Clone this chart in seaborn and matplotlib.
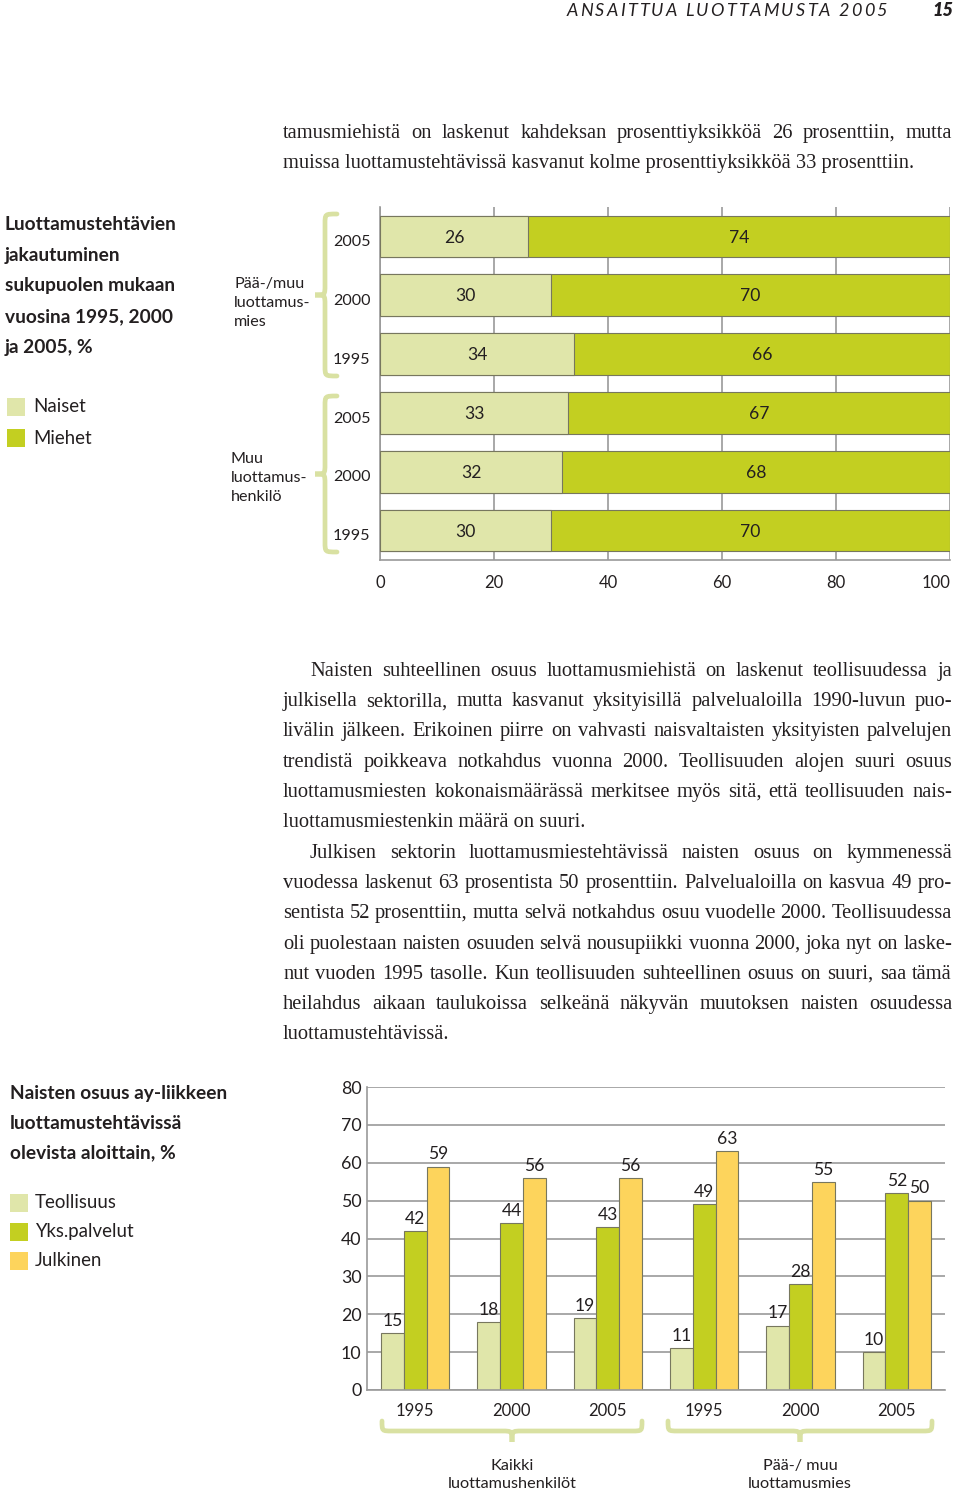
import numpy as np
import pandas as pd
import matplotlib
matplotlib.use("Agg")
import matplotlib.pyplot as plt
import seaborn as sns
from matplotlib.path import Path
from matplotlib.patches import PathPatch, Rectangle
import matplotlib.transforms as mtransforms

# ---------------- data ----------------
top_groups = ["Pää-/muu luottamusmies"] * 3 + ["Muu luottamushenkilö"] * 3
top_years = ["2005", "2000", "1995", "2005", "2000", "1995"]
naiset = [26, 30, 34, 33, 32, 30]
miehet = [74, 70, 66, 67, 68, 70]
top_xticks = [0, 20, 40, 60, 80, 100]

bottom_groups = ["Kaikki luottamushenkilöt"] * 3 + ["Pää-/ muu luottamusmies"] * 3
bottom_years = ["1995", "2000", "2005", "1995", "2000", "2005"]
teollisuus = [15, 18, 19, 11, 17, 10]
yks_palvelut = [42, 44, 43, 49, 28, 52]
julkinen = [59, 56, 56, 63, 55, 50]
sectors = ["Teollisuus", "Yks.palvelut", "Julkinen"]
bottom_yticks = [0, 10, 20, 30, 40, 50, 60, 70, 80]

header = "ANSAITTUA LUOTTAMUSTA 2005"
page_no = "15"
top_title = ["Luottamustehtävien", "jakautuminen", "sukupuolen mukaan",
             "vuosina 1995, 2000", "ja 2005, %"]
top_legend = ["Naiset", "Miehet"]
top_group_labels = ["Pää-/muu\nluottamus-\nmies", "Muu\nluottamus-\nhenkilö"]
bottom_title = ["Naisten osuus ay-liikkeen", "luottamustehtävissä",
                "olevista aloittain, %"]
bottom_group_labels = ["Kaikki\nluottamushenkilöt", "Pää-/ muu\nluottamusmies"]

para0 = ["tamusmiehistä on laskenut kahdeksan prosenttiyksikköä 26 prosenttiin, mutta",
         "muissa luottamustehtävissä kasvanut kolme prosenttiyksikköä 33 prosenttiin."]
para1 = ["Naisten suhteellinen osuus luottamusmiehistä on laskenut teollisuudessa ja",
         "julkisella sektorilla, mutta kasvanut yksityisillä palvelualoilla 1990-luvun puo-",
         "livälin jälkeen. Erikoinen piirre on vahvasti naisvaltaisten yksityisten palvelujen",
         "trendistä poikkeava notkahdus vuonna 2000. Teollisuuden alojen suuri osuus",
         "luottamusmiesten kokonaismäärässä merkitsee myös sitä, että teollisuuden nais-",
         "luottamusmiestenkin määrä on suuri."]
para2 = ["Julkisen sektorin luottamusmiestehtävissä naisten osuus on kymmenessä",
         "vuodessa laskenut 63 prosentista 50 prosenttiin. Palvelualoilla on kasvua 49 pro-",
         "sentista 52 prosenttiin, mutta selvä notkahdus osuu vuodelle 2000. Teollisuudessa",
         "oli puolestaan naisten osuuden selvä nousupiikki vuonna 2000, joka nyt on laske-",
         "nut vuoden 1995 tasolle. Kun teollisuuden suhteellinen osuus on suuri, saa tämä",
         "heilahdus aikaan taulukoissa selkeänä näkyvän muutoksen naisten osuudessa",
         "luottamustehtävissä."]

# ---------------- style ----------------
C_NAI = "#E0E6AA"
C_MIE = "#C3CF21"
C_JUL = "#FDD45C"
C_BRACE = "#D9E1A2"
C_GRID = "#9A9A9A"
C_EDGE = "#77775E"
C_TXT = "#231F20"

sns.set_theme(style="white")
plt.rcParams["font.family"] = ["Lato", "DejaVu Sans"]
plt.rcParams["text.color"] = C_TXT
plt.rcParams["xtick.color"] = C_TXT
plt.rcParams["ytick.color"] = C_TXT

W, H = 960, 1493
fig = plt.figure(figsize=(W / 100, H / 100), dpi=100)
fig.patch.set_facecolor("white")
PX = mtransforms.Affine2D().scale(1, -1).translate(0, H)
R = fig.canvas.get_renderer()


def measure(s, **kw):
    t = fig.text(0, 0, s, transform=PX, **kw)
    w = t.get_window_extent(renderer=R).width
    t.remove()
    return w


def ptext(x, y, s, **kw):
    return fig.text(x, y, s, transform=PX, **kw)


def body_line(s, x0, x1, y, justify, **kw):
    if not justify:
        ptext(x0, y, s, va="baseline", ha="left", **kw)
        return
    words = s.split(" ")
    ws = [measure(w, **kw) for w in words]
    gap = (x1 - x0 - sum(ws)) / (len(words) - 1)
    x = x0
    for w, wd in zip(words, ws):
        ptext(x, y, w, va="baseline", ha="left", **kw)
        x += wd + gap


def tracked(s, x0, x1, y, **kw):
    ws = [measure(c, **kw) if c != " " else measure("x x", **kw) - measure("xx", **kw)
          for c in s]
    tr = (x1 - x0 - sum(ws)) / (len(s) - 1)
    x = x0
    for c, wd in zip(s, ws):
        if c != " ":
            ptext(x, y, c, va="center", ha="left", **kw)
        x += wd + tr


def vbrace(x_end, x_stem, x_tip, y0, y1, r, lw=3.4):
    ym = (y0 + y1) / 2
    verts = [(x_end, y0), (x_stem, y0), (x_stem, y0), (x_stem, y0 + r),
             (x_stem, ym - r), (x_stem, ym), (x_stem, ym), (x_tip, ym),
             (x_stem, ym), (x_stem, ym), (x_stem, ym + r),
             (x_stem, y1 - r), (x_stem, y1), (x_stem, y1), (x_end, y1)]
    codes = [Path.MOVETO] + [Path.CURVE4] * 3 + [Path.LINETO] + [Path.CURVE4] * 6 + \
            [Path.LINETO] + [Path.CURVE4] * 3
    fig.add_artist(PathPatch(Path(verts, codes), transform=PX, fill=False,
                             edgecolor=C_BRACE, lw=lw, capstyle="round"))


def hbrace(x0, x1, y_end, y_stem, y_tip, r, lw=3.4):
    xm = (x0 + x1) / 2
    verts = [(x0, y_end), (x0, y_stem), (x0, y_stem), (x0 + r, y_stem),
             (xm - r, y_stem), (xm, y_stem), (xm, y_stem), (xm, y_tip),
             (xm, y_stem), (xm, y_stem), (xm + r, y_stem),
             (x1 - r, y_stem), (x1, y_stem), (x1, y_stem), (x1, y_end)]
    codes = [Path.MOVETO] + [Path.CURVE4] * 3 + [Path.LINETO] + [Path.CURVE4] * 6 + \
            [Path.LINETO] + [Path.CURVE4] * 3
    fig.add_artist(PathPatch(Path(verts, codes), transform=PX, fill=False,
                             edgecolor=C_BRACE, lw=lw, capstyle="round"))


# ---------------- header ----------------
tracked(header, 567, 887, 11, fontsize=13, style="italic")
ptext(953, 11, page_no, ha="right", va="center", fontsize=13, style="italic",
      fontweight="heavy")

# ---------------- body text ----------------
BODY = dict(family=["Liberation Serif", "DejaVu Serif"], fontsize=14.8)
XL, XR, IND = 283, 952, 310
LH = 30.2


def paragraph(lines, y0, indent_first):
    for k, s in enumerate(lines):
        x0 = IND if (k == 0 and indent_first) else XL
        body_line(s, x0, XR, y0 + k * LH + 5, k < len(lines) - 1, **BODY)


paragraph(para0, 133, False)
paragraph(para1, 671, True)
paragraph(para2, 853, True)

# ---------------- top chart ----------------
ax1 = fig.add_axes([380 / W, 1 - 560 / H, 570 / W, 353 / H])
df_top = pd.DataFrame({
    "row": [f"{g} {y}" for g, y in zip(top_groups, top_years)],
    "Naiset": naiset,
    "Miehet": miehet,
})
df_top["Yhteensä"] = df_top["Naiset"] + df_top["Miehet"]
sns.barplot(data=df_top, x="Yhteensä", y="row", orient="h", color=C_MIE,
            saturation=1, width=0.71, errorbar=None, edgecolor=C_EDGE,
            linewidth=0.8, ax=ax1, zorder=2)
sns.barplot(data=df_top, x="Naiset", y="row", orient="h", color=C_NAI,
            saturation=1, width=0.71, errorbar=None, edgecolor=C_EDGE,
            linewidth=0.8, ax=ax1, zorder=3)
for i, (n, m) in enumerate(zip(naiset, miehet)):
    ax1.text(n / 2, i + 0.02, str(n), ha="center", va="center", fontsize=12.6, zorder=5)
    ax1.text(n + m / 2, i + 0.02, str(m), ha="center", va="center", fontsize=12.6, zorder=5)
ax1.set_xlim(0, 100)
ax1.set_ylim(5.5, -0.5)
ax1.set_xticks(top_xticks)
ax1.set_xticklabels([str(v) for v in top_xticks])
ax1.get_xticklabels()[-1].set_horizontalalignment("right")
ax1.set_yticks([i + 0.07 for i in range(len(top_years))])
ax1.set_yticklabels(top_years)
ax1.set_xlabel("")
ax1.set_ylabel("")
ax1.set_axisbelow(True)
ax1.xaxis.grid(True, color=C_GRID, lw=1.2)
ax1.yaxis.grid(False)
for sp in ["top", "right"]:
    ax1.spines[sp].set_visible(False)
for sp in ["left", "bottom"]:
    ax1.spines[sp].set_color(C_GRID)
    ax1.spines[sp].set_linewidth(1.2)
ax1.tick_params(axis="x", length=0, pad=11, labelsize=12)
ax1.tick_params(axis="y", length=0, pad=7, labelsize=11.6)
ax1.set_facecolor("none")

# braces & group labels (top)
vbrace(337, 325, 315, 214, 376, 10)
vbrace(337, 325, 315, 396, 552, 10)
ptext(234, 303, top_group_labels[0], ha="left", va="center", fontsize=11.6,
      linespacing=1.45)
ptext(231, 478, top_group_labels[1], ha="left", va="center", fontsize=11.6,
      linespacing=1.45)

# top title & legend
for k, s in enumerate(top_title):
    ptext(5, 225 + k * 30.5, s, ha="left", va="center", fontsize=13.8,
          fontweight="bold")
for k, (lab, col) in enumerate(zip(top_legend, [C_NAI, C_MIE])):
    fig.add_artist(Rectangle((7, 398 + k * 31), 18, 18, transform=PX,
                             facecolor=col, edgecolor="none"))
    ptext(33, 407 + k * 31, lab, ha="left", va="center", fontsize=13.4)

# ---------------- bottom chart ----------------
ax2 = fig.add_axes([367 / W, 1 - 1390 / H, 578 / W, 303 / H])
cols = [f"{g} {y}" for g, y in zip(bottom_groups, bottom_years)]
df_bot = pd.DataFrame({
    "col": cols * 3,
    "sector": np.repeat(sectors, len(cols)),
    "value": teollisuus + yks_palvelut + julkinen,
})
sns.barplot(data=df_bot, x="col", y="value", hue="sector", hue_order=sectors,
            order=cols, palette=[C_NAI, C_MIE, C_JUL], saturation=1, width=0.71,
            errorbar=None, edgecolor=C_EDGE, linewidth=0.8, legend=False,
            ax=ax2, zorder=2)
for cont in ax2.containers:
    ax2.bar_label(cont, padding=3, fontsize=12.6)
ax2.set_ylim(0, 80)
ax2.set_xlim(-0.5, 5.5)
ax2.set_yticks(bottom_yticks)
ax2.set_yticklabels([str(v) for v in bottom_yticks])
ax2.set_xticks(range(len(bottom_years)))
ax2.set_xticklabels(bottom_years)
ax2.set_xlabel("")
ax2.set_ylabel("")
ax2.set_axisbelow(True)
ax2.yaxis.grid(True, color=C_GRID, lw=1.2)
ax2.xaxis.grid(False)
for sp in ["top", "right"]:
    ax2.spines[sp].set_visible(False)
for sp in ["left", "bottom"]:
    ax2.spines[sp].set_color(C_GRID)
    ax2.spines[sp].set_linewidth(1.2)
ax2.tick_params(axis="x", length=0, pad=9, labelsize=12)
ax2.tick_params(axis="y", length=0, pad=4, labelsize=12.8)
ax2.set_facecolor("none")

hbrace(382, 642, 1421, 1431, 1442, 10)
hbrace(668, 932, 1421, 1431, 1442, 10)
ptext(512, 1475, bottom_group_labels[0], ha="center", va="center", fontsize=11.7,
      linespacing=1.38)
ptext(800, 1475, bottom_group_labels[1], ha="center", va="center", fontsize=11.7,
      linespacing=1.38)

for k, s in enumerate(bottom_title):
    ptext(10, 1094 + k * 29.5, s, ha="left", va="center", fontsize=13.8,
          fontweight="bold")
for k, (lab, col) in enumerate(zip(sectors, [C_NAI, C_MIE, C_JUL])):
    fig.add_artist(Rectangle((10, 1194 + k * 29), 18, 18, transform=PX,
                             facecolor=col, edgecolor="none"))
    ptext(35, 1203 + k * 29, lab, ha="left", va="center", fontsize=13.4)

fig.savefig("out.png", dpi=100, facecolor="white")
